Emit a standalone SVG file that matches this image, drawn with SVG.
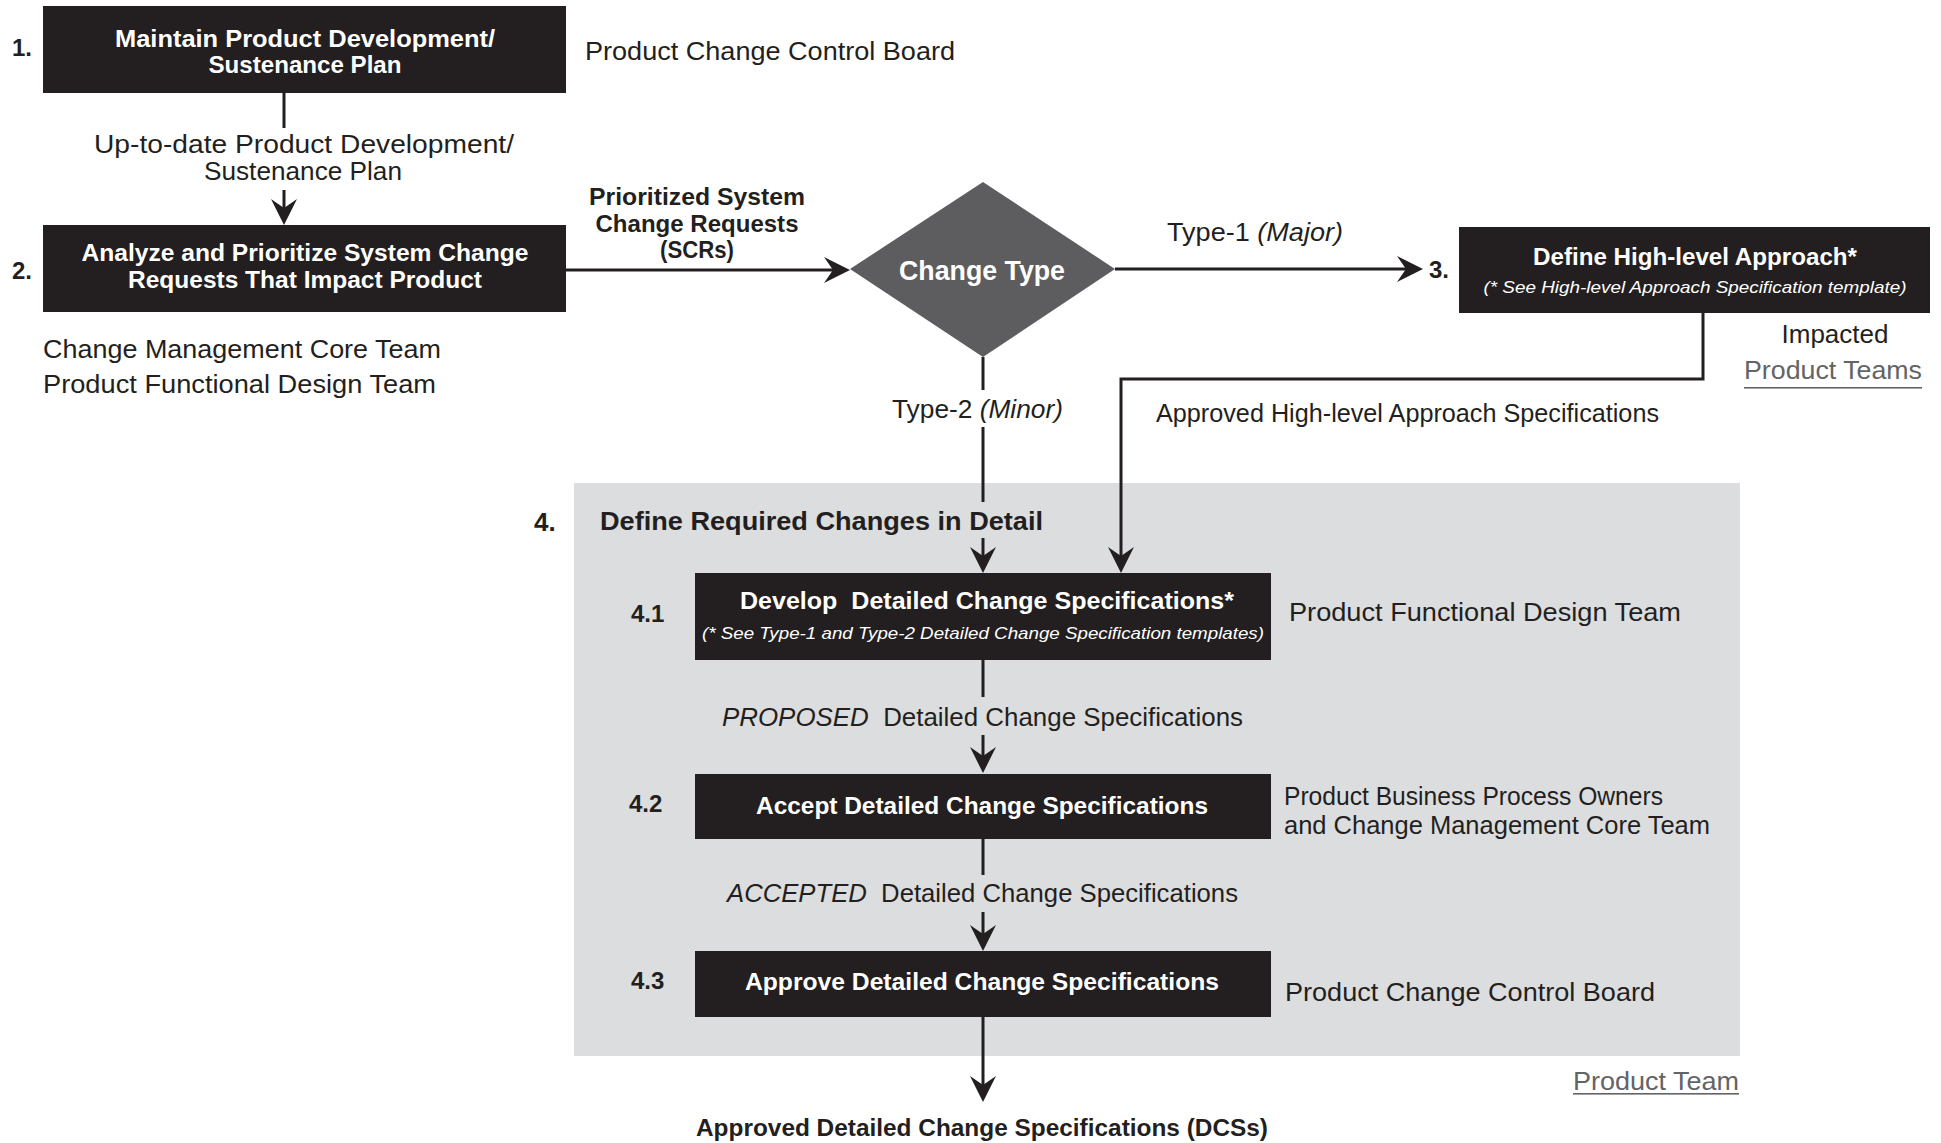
<svg xmlns="http://www.w3.org/2000/svg" width="1941" height="1143" viewBox="0 0 1941 1143">
<defs>
<style>
text{font-family:"Liberation Sans",Arial,sans-serif;fill:#231f20}
.r{font-size:26px}
.t{font-size:24px;font-weight:bold;fill:#ffffff;text-anchor:middle}
.s{font-size:17px;font-style:italic;fill:#ffffff;text-anchor:middle}
.n{font-size:24px;font-weight:bold}
.bl{font-size:24px;font-weight:bold}
.c{text-anchor:middle}
.i{font-style:italic}
.g{fill:#636466}
.box{fill:#231f20}
.ln{stroke:#231f20;stroke-width:3;fill:none}
.pre{white-space:pre}
</style>
<marker id="ah" markerUnits="userSpaceOnUse" markerWidth="30" markerHeight="30" viewBox="0 -15 30 30" refX="18" refY="0" orient="auto"><path d="M0,-13 L26,0 L0,13 L9,0 Z" fill="#231f20"/></marker>
</defs>
<rect width="1941" height="1143" fill="#ffffff"/>

<g id="step4">
<rect x="574" y="483" width="1166" height="573" fill="#dcdddf"/>
<text class="n" x="534" y="531" style="font-size:26px">4.</text>
<text class="bl" x="600" y="530" style="font-size:26px" textLength="443" lengthAdjust="spacingAndGlyphs">Define Required Changes in Detail</text>
<text class="r g" x="1573" y="1090" textLength="166" lengthAdjust="spacingAndGlyphs">Product Team</text>
<rect x="1573" y="1093" width="166" height="1.6" fill="#636466"/>
</g>

<g id="connectors">
<line class="ln" x1="284" y1="93" x2="284" y2="128"/>
<line class="ln" x1="284" y1="190" x2="284" y2="217" marker-end="url(#ah)"/>
<text class="r c" x="304" y="153" textLength="420" lengthAdjust="spacingAndGlyphs">Up-to-date Product Development/</text>
<text class="r c" x="303" y="180" textLength="198" lengthAdjust="spacingAndGlyphs">Sustenance Plan</text>

<line class="ln" x1="566" y1="270" x2="842" y2="270" marker-end="url(#ah)"/>
<text class="bl c" x="697" y="205" textLength="216" lengthAdjust="spacingAndGlyphs">Prioritized System</text>
<text class="bl c" x="697" y="232" textLength="203" lengthAdjust="spacingAndGlyphs">Change Requests</text>
<text class="bl c" x="697" y="258" textLength="74" lengthAdjust="spacingAndGlyphs">(SCRs)</text>

<line class="ln" x1="1115" y1="269" x2="1415" y2="269" marker-end="url(#ah)"/>
<text class="r" x="1167" y="241" textLength="176" lengthAdjust="spacingAndGlyphs">Type-1 <tspan class="i">(Major)</tspan></text>

<line class="ln" x1="983" y1="357" x2="983" y2="390"/>
<text class="r" x="892" y="418" textLength="171" lengthAdjust="spacingAndGlyphs">Type-2 <tspan class="i">(Minor)</tspan></text>
<line class="ln" x1="983" y1="427" x2="983" y2="502"/>
<line class="ln" x1="983" y1="538" x2="983" y2="565" marker-end="url(#ah)"/>

<polyline class="ln" points="1703,313 1703,379 1121,379 1121,565" marker-end="url(#ah)"/>
<text class="r" x="1156" y="422" textLength="503" lengthAdjust="spacingAndGlyphs">Approved High-level Approach Specifications</text>

<line class="ln" x1="983" y1="660" x2="983" y2="697"/>
<text class="r pre" xml:space="preserve" x="722" y="726" textLength="521" lengthAdjust="spacingAndGlyphs"><tspan class="i">PROPOSED</tspan>  Detailed Change Specifications</text>
<line class="ln" x1="983" y1="735" x2="983" y2="765" marker-end="url(#ah)"/>

<line class="ln" x1="983" y1="839" x2="983" y2="875"/>
<text class="r pre" xml:space="preserve" x="727" y="902" textLength="511" lengthAdjust="spacingAndGlyphs"><tspan class="i">ACCEPTED</tspan>  Detailed Change Specifications</text>
<line class="ln" x1="983" y1="912" x2="983" y2="943" marker-end="url(#ah)"/>

<line class="ln" x1="983" y1="1017" x2="983" y2="1094" marker-end="url(#ah)"/>
<text class="bl" x="696" y="1136" textLength="572" lengthAdjust="spacingAndGlyphs">Approved Detailed Change Specifications (DCSs)</text>
</g>

<g id="step1">
<text class="n" x="12" y="56">1.</text>
<rect class="box" x="43" y="6" width="523" height="87"/>
<text class="t" x="305" y="47" textLength="380" lengthAdjust="spacingAndGlyphs">Maintain Product Development/</text>
<text class="t" x="305" y="73" textLength="193" lengthAdjust="spacingAndGlyphs">Sustenance Plan</text>
<text class="r" x="585" y="60" textLength="370" lengthAdjust="spacingAndGlyphs">Product Change Control Board</text>
</g>

<g id="step2">
<text class="n" x="12" y="279">2.</text>
<rect class="box" x="43" y="225" width="523" height="87"/>
<text class="t" x="305" y="261" textLength="447" lengthAdjust="spacingAndGlyphs">Analyze and Prioritize System Change</text>
<text class="t" x="305" y="288" textLength="354" lengthAdjust="spacingAndGlyphs">Requests That Impact Product</text>
<text class="r" x="43" y="358" textLength="398" lengthAdjust="spacingAndGlyphs">Change Management Core Team</text>
<text class="r" x="43" y="393" textLength="393" lengthAdjust="spacingAndGlyphs">Product Functional Design Team</text>
</g>

<g id="decision">
<polygon points="983,182 1115,269 983,357 850,269" fill="#5d5d5f"/>
<text class="t" x="982" y="280" style="font-size:27px" textLength="166" lengthAdjust="spacingAndGlyphs">Change Type</text>
</g>

<g id="step3">
<text class="n" x="1429" y="278">3.</text>
<rect class="box" x="1459" y="227" width="471" height="86"/>
<text class="t" x="1695" y="265" textLength="324" lengthAdjust="spacingAndGlyphs">Define High-level Approach*</text>
<text class="s" x="1695" y="293" textLength="423" lengthAdjust="spacingAndGlyphs">(* See High-level Approach Specification template)</text>
<text class="r c" x="1835" y="343" textLength="107" lengthAdjust="spacingAndGlyphs">Impacted</text>
<text class="r g" x="1744" y="379" textLength="178" lengthAdjust="spacingAndGlyphs">Product Teams</text>
<rect x="1744" y="387" width="178" height="1.6" fill="#636466"/>
</g>

<g id="step4-1">
<text class="n" x="631" y="622">4.1</text>
<rect class="box" x="695" y="573" width="576" height="87"/>
<text class="t pre" xml:space="preserve" x="987" y="609" textLength="494" lengthAdjust="spacingAndGlyphs">Develop  Detailed Change Specifications*</text>
<text class="s" x="983" y="639" textLength="562" lengthAdjust="spacingAndGlyphs">(* See Type-1 and Type-2 Detailed Change Specification templates)</text>
<text class="r" x="1289" y="621" textLength="392" lengthAdjust="spacingAndGlyphs">Product Functional Design Team</text>
</g>

<g id="step4-2">
<text class="n" x="629" y="812">4.2</text>
<rect class="box" x="695" y="774" width="576" height="65"/>
<text class="t" x="982" y="814" textLength="452" lengthAdjust="spacingAndGlyphs">Accept Detailed Change Specifications</text>
<text class="r" x="1284" y="805" textLength="379" lengthAdjust="spacingAndGlyphs">Product Business Process Owners</text>
<text class="r" x="1284" y="834" textLength="426" lengthAdjust="spacingAndGlyphs">and Change Management Core Team</text>
</g>

<g id="step4-3">
<text class="n" x="631" y="989">4.3</text>
<rect class="box" x="695" y="951" width="576" height="66"/>
<text class="t" x="982" y="990" textLength="474" lengthAdjust="spacingAndGlyphs">Approve Detailed Change Specifications</text>
<text class="r" x="1285" y="1001" textLength="370" lengthAdjust="spacingAndGlyphs">Product Change Control Board</text>
</g>
</svg>
